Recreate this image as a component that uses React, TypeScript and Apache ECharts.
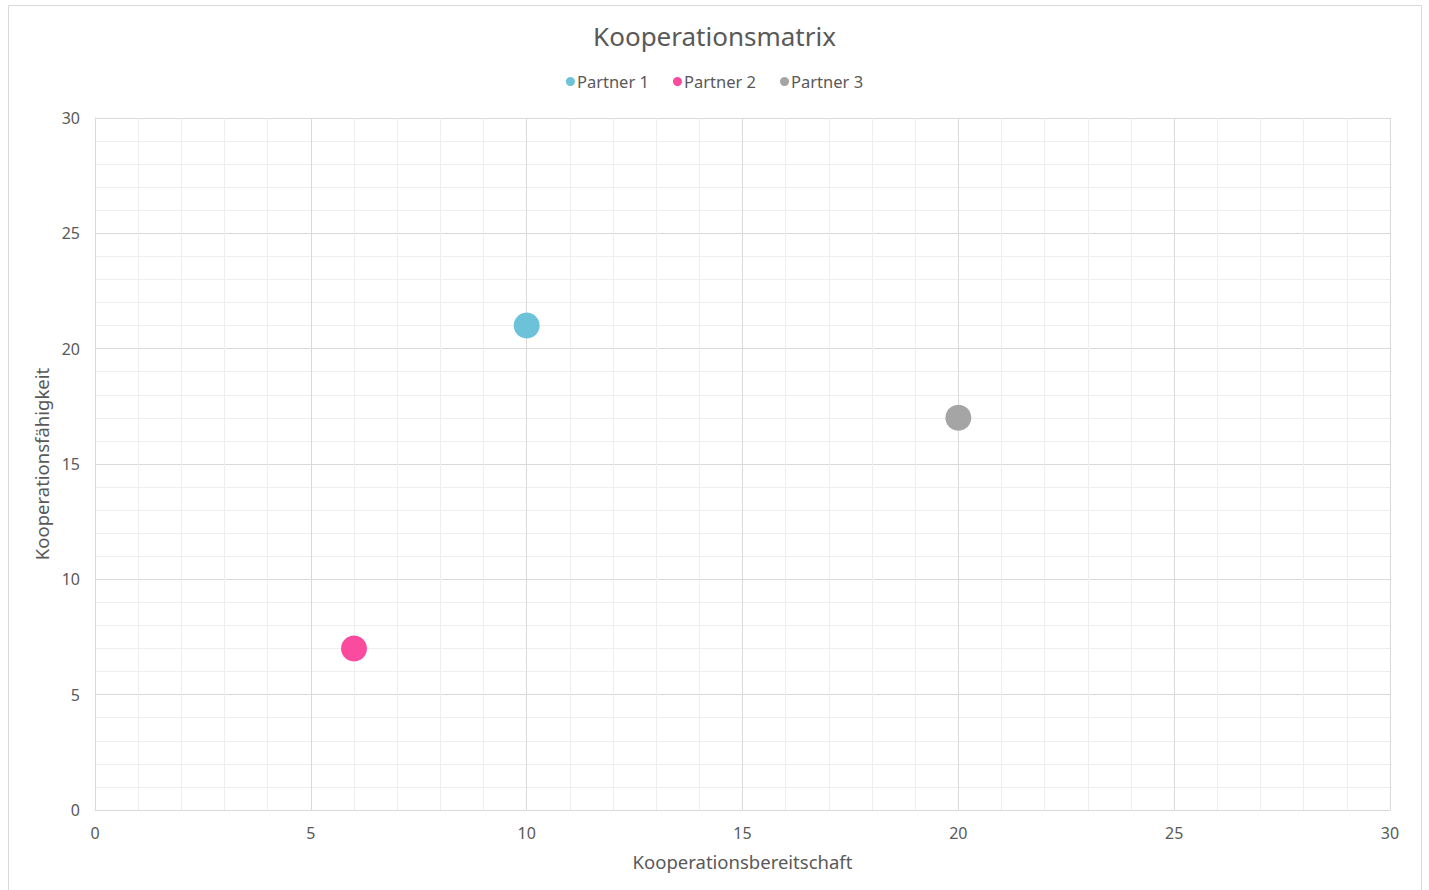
import React, { useEffect, useRef } from "react";
import * as echarts from "echarts";

const seriesNames = ["Partner 1", "Partner 2", "Partner 3"];
const seriesColors = ["#6cc2d9", "#fb4b9f", "#a5a5a5"];
const bereitschaft = [10, 6, 20];
const faehigkeit = [21, 7, 17];

const FONT = "'Noto Sans', 'DejaVu Sans', sans-serif";
const TXT = "#595959";

export default function App() {
  const ref = useRef<HTMLDivElement>(null);
  useEffect(() => {
    if (!ref.current) return;
    const chart = echarts.init(ref.current, undefined, { renderer: "svg" });
    const axisCommon = {
      type: "value",
      min: 0,
      max: 30,
      interval: 5,
      nameLocation: "middle",
      nameTextStyle: { color: TXT, fontSize: 18.5, fontFamily: FONT },
      axisLine: { show: true, lineStyle: { color: "#d9d9d9" } },
      axisTick: { show: false },
      axisLabel: { color: TXT, fontSize: 16, fontFamily: FONT },
      splitLine: { show: true, lineStyle: { color: "#d9d9d9", width: 1 } },
      minorTick: { show: false, splitNumber: 5 },
      minorSplitLine: { show: true, lineStyle: { color: "#eeeeee", width: 1 } },
    };
    chart.setOption({
      animation: false,
      backgroundColor: "#ffffff",
      title: {
        text: "Kooperationsmatrix",
        left: "center",
        top: 18,
        textStyle: { color: TXT, fontSize: 26, fontWeight: "normal", fontFamily: FONT },
      },
      legend: {
        top: 68,
        left: "center",
        itemWidth: 9,
        itemHeight: 9,
        itemGap: 24,
        icon: "circle",
        textStyle: { color: TXT, fontSize: 16.5, fontFamily: FONT, padding: [0, 0, 0, -3] },
        data: seriesNames,
      },
      grid: { left: 95, top: 118, width: 1295, height: 692, containLabel: false },
      xAxis: {
        ...axisCommon,
        name: "Kooperationsbereitschaft",
        nameGap: 42,
        axisLabel: { ...axisCommon.axisLabel, margin: 15 },
      },
      yAxis: {
        ...axisCommon,
        name: "Kooperationsfähigkeit",
        nameGap: 44,
        axisLabel: { ...axisCommon.axisLabel, margin: 15 },
      },
      graphic: [
        {
          type: "rect",
          shape: { x: 8.5, y: 5.5, width: 1413, height: 900 },
          style: { fill: "none", stroke: "#d9d9d9", lineWidth: 1 },
          silent: true,
          z: -1,
        },
      ],
      series: seriesNames.map((n, i) => ({
        name: n,
        type: "scatter",
        symbolSize: 26,
        itemStyle: { color: seriesColors[i], opacity: 1 },
        data: [[bereitschaft[i], faehigkeit[i]]],
      })),
    });
    return () => chart.dispose();
  }, []);
  return (
    <div
      ref={ref}
      style={{ position: "fixed", left: 0, top: 0, width: 1429, height: 890 }}
    />
  );
}
